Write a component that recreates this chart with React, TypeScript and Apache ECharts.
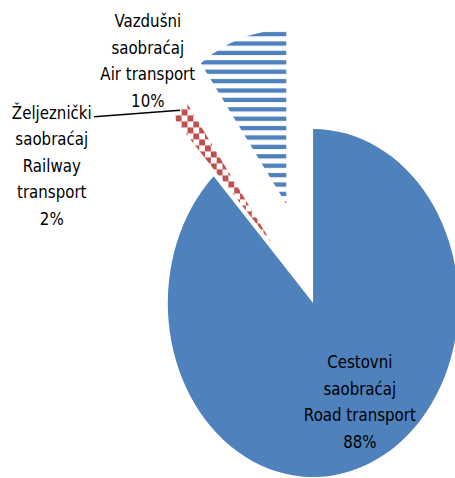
import React, { useEffect, useRef } from "react";
import * as echarts from "echarts";

// ---- data ----
const categories = [
  "Cestovni\nsaobraćaj\nRoad transport",
  "Željeznički\nsaobraćaj\nRailway\ntransport",
  "Vazdušni\nsaobraćaj\nAir transport",
];
const shares = [88, 2, 10];
const exploded = [false, true, true];

// ---- layout (chart space; the chart is squeezed horizontally to 455px) ----
const W = 545;
const H = 478;
const SX = 455 / W;
const CENTER: [number, number] = [375, 303];
const RADIUS = 174;
// explosion distance per slice (Excel exploded the slices unevenly)
const explodeBy = [0, 76, 104];
const BLUE = "#4F81BD";
const RED = "#C0504D";
// label centres, in chart space
const labelCentres: [number, number][] = [
  [431, 402],
  [62, 166],
  [177, 61],
];

function stripePattern(): HTMLCanvasElement {
  const c = document.createElement("canvas");
  c.width = 8;
  c.height = 47;
  const ctx = c.getContext("2d")!;
  ctx.fillStyle = "#ffffff";
  ctx.fillRect(0, 0, 8, 47);
  ctx.fillStyle = BLUE;
  for (let i = 0; i < 5; i++) {
    const y = 8.7 + i * 9.4;
    ctx.fillRect(0, y, 8, 4.3);
    ctx.fillRect(0, y - 47, 8, 4.3);
  }
  return c;
}

function checkerPattern(): HTMLCanvasElement {
  const c = document.createElement("canvas");
  c.width = 14;
  c.height = 12;
  const ctx = c.getContext("2d")!;
  ctx.fillStyle = "#ffffff";
  ctx.fillRect(0, 0, 14, 12);
  ctx.fillStyle = RED;
  ctx.fillRect(0, 0, 7, 6);
  ctx.fillRect(7, 6, 7, 6);
  return c;
}

export default function App() {
  const ref = useRef<HTMLDivElement>(null);
  useEffect(() => {
    if (!ref.current) return;
    const chart = echarts.init(ref.current, null, { renderer: "svg", width: W, height: H });
    const fills: any[] = [
      BLUE,
      { image: checkerPattern(), repeat: "repeat" },
      { image: stripePattern(), repeat: "repeat" },
    ];
    const NONE = "rgba(0,0,0,0)";
    const common = {
      type: "pie",
      center: CENTER,
      radius: RADIUS,
      startAngle: 90,
      clockwise: true,
      silent: true,
      percentPrecision: 0,
      avoidLabelOverlap: false,
      emphasis: { disabled: true },
    };
    // one slice layer per distinct explosion distance
    const layers = [
      [0, 1],
      [2],
    ].map((members, li) => ({
      ...common,
      name: "slices" + li,
      selectedMode: "multiple",
      selectedOffset: Math.max(...members.map((m) => explodeBy[m])),
      label: { show: false },
      labelLine: { show: false },
      data: categories.map((name, i) => ({
        name,
        value: shares[i],
        selected: members.includes(i) && exploded[i],
        itemStyle: { color: members.includes(i) ? fills[i] : NONE },
      })),
    }));
    chart.setOption({
      animation: false,
      backgroundColor: "#ffffff",
      series: [
        ...layers,
        {
          ...common,
          name: "labels",
          selectedMode: false,
          z: 3,
          itemStyle: { color: NONE },
          label: {
            show: true,
            position: "outside",
            formatter: "{b}\n{d}%",
            fontFamily: "DejaVu Sans",
            fontSize: 18,
            lineHeight: 26.5,
            color: "#000000",
            align: "center",
          },
          labelLine: {
            show: true,
            length: 10,
            length2: 10,
            lineStyle: { color: "#000000", width: 1.5 },
          },
          labelLayout: (p: any) => {
            const [x, y] = labelCentres[p.dataIndex];
            const out: any = { x, y, align: "center", verticalAlign: "middle" };
            if (p.labelLinePoints) {
              const p0 = p.labelLinePoints[0];
              const vx = p0[0] - CENTER[0];
              const vy = p0[1] - CENTER[1];
              const len = Math.sqrt(vx * vx + vy * vy) || 1;
              const d = explodeBy[p.dataIndex];
              const sliceEnd = [p0[0] + (vx / len) * d, p0[1] + (vy / len) * d];
              const labelEnd = [x + p.labelRect.width / 2 + 3, y - p.labelRect.height / 2 + 17];
              out.labelLinePoints = [labelEnd, labelEnd, sliceEnd];
            }
            return out;
          },
          data: categories.map((name, i) => ({
            name,
            value: shares[i],
            labelLine: { show: i === 1 },
          })),
        },
      ],
    });
    return () => chart.dispose();
  }, []);
  return (
    <div style={{ position: "absolute", left: 0, top: 0, width: 455, height: 478, overflow: "hidden", background: "#fff" }}>
      <div
        ref={ref}
        style={{ width: W, height: H, transform: `scaleX(${SX})`, transformOrigin: "0 0" }}
      />
    </div>
  );
}
